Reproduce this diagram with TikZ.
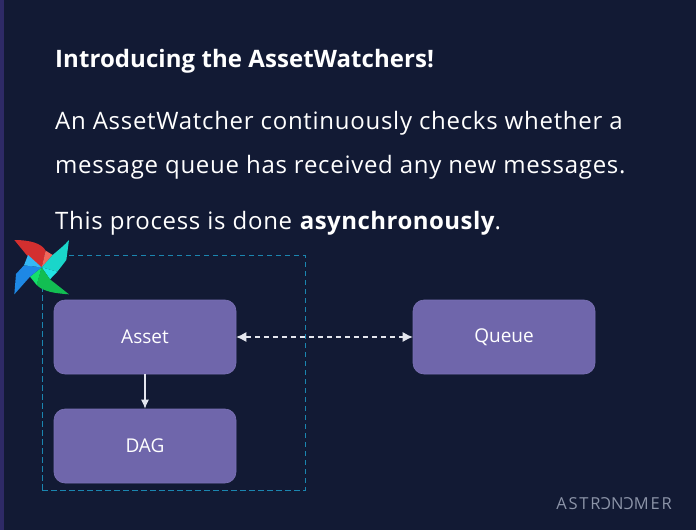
\documentclass[tikz,border=0pt]{standalone}
\usepackage{fontspec}
\setmainfont{Open Sans}
\definecolor{bgnavy}{HTML}{121A34}
\definecolor{stripe}{HTML}{2E2A66}
\definecolor{boxfill}{HTML}{6F66AB}
\definecolor{boxline}{HTML}{7A71B4}
\definecolor{watchline}{HTML}{1B86B0}
\definecolor{linkline}{HTML}{E4E6EE}
\definecolor{logotext}{HTML}{8C94A8}
\definecolor{pinred}{HTML}{D32F2F}
\definecolor{pinsalmon}{HTML}{F0675C}
\definecolor{pinteal}{HTML}{1AD6CA}
\definecolor{pincyan}{HTML}{22E4E4}
\definecolor{pingreen}{HTML}{12BE52}
\definecolor{pinlime}{HTML}{14E06A}
\definecolor{pinblue}{HTML}{1E88E5}
\definecolor{pinsky}{HTML}{35B8F5}
\usetikzlibrary{arrows.meta}
\tikzset{
    bodytext/.style={anchor=base west,inner sep=0pt,text=white,font=\fontsize{24}{28}\selectfont\addfontfeature{LetterSpace=3}},
    headtext/.style={anchor=base west,inner sep=0pt,text=white,font=\fontsize{24}{28}\selectfont\bfseries\addfontfeature{LetterSpace=0.3}},
    block/.style={draw=boxline,line width=0.6pt,fill=boxfill,rounded corners=11pt,minimum width=182pt,minimum height=74pt,inner sep=0pt,text=white,font=\fontsize{19}{22}\selectfont},
    link/.style={draw=linkline,line width=1.1pt},
}
\begin{document}
\begin{tikzpicture}[x=1pt,y=-1pt]
    \useasboundingbox (0,0) rectangle (696,530);
    \fill[bgnavy] (0,0) rectangle (696,530);
    \fill[stripe] (0,0) rectangle (3.5,530);
    % texts
    \node[headtext] (title) at (55,67) {Introducing the AssetWatchers!};
    \node[bodytext] (lineA) at (55,129) {An AssetWatcher continuously checks whether a};
    \node[bodytext] (lineB) at (55,173) {message queue has received any new messages.};
    \node[bodytext] (lineC) at (55,229) {This process is done \textbf{\addfontfeature{LetterSpace=2}asynchronously}.};
    % watcher frame
    \node[draw=watchline,dash pattern=on 5.5pt off 3.5pt,line width=1pt,minimum width=263pt,minimum height=235pt,inner sep=0pt] (watcher) at (173.5,372.5) {};
    % blocks
    \node[block] (asset) at (145,337) {Asset};
    \node[block] (queue) at (504,337) {Queue};
    \node[block] (dag) at (145,446) {DAG};
    \draw[link,-{Latex[length=9pt,width=8pt]}] (asset) -- (dag);
    \draw[link,dash pattern=on 5.5pt off 3.5pt,{Latex[length=10pt,width=10pt]}-{Latex[length=10pt,width=10pt]}] (asset) -- (queue);
    % pinwheel
    \begin{scope}[shift={(0,230)},x=0.3333pt,y=-0.3333pt]
        \fill[bgnavy] (125,112) circle (30);
        \fill[pinred] (43,30) .. controls (90,30) and (125,40) .. (137,62) -- (125,112) -- (80,75) -- cycle;
        \fill[pinsalmon] (137,62) -- (158,75) -- (125,112) -- cycle;
        \fill[pinteal] (207,30) -- (199,90) -- (172,125) -- (125,112) -- (158,75) .. controls (175,60) and (195,45) .. cycle;
        \fill[pincyan] (125,112) -- (172,125) -- (150,148) -- cycle;
        \fill[pingreen] (207,193) .. controls (165,190) and (130,185) .. (110,165) -- (125,112) -- (150,148) -- cycle;
        \fill[pinlime] (90,140) -- (125,112) -- (110,165) -- cycle;
        \fill[pinblue] (43,193) -- (48,132) -- (72,106) -- (125,112) -- (90,140) -- cycle;
        \fill[pinsky] (84,75) -- (125,112) -- (72,106) -- cycle;
    \end{scope}
    % logo
    \node[anchor=base east,inner sep=0pt,text=logotext,font=\fontsize{16.5}{18}\selectfont\addfontfeature{LetterSpace=11}] (logo) at (672,509) {ASTR\reflectbox{C}N\reflectbox{C}MER};
\end{tikzpicture}
\end{document}
